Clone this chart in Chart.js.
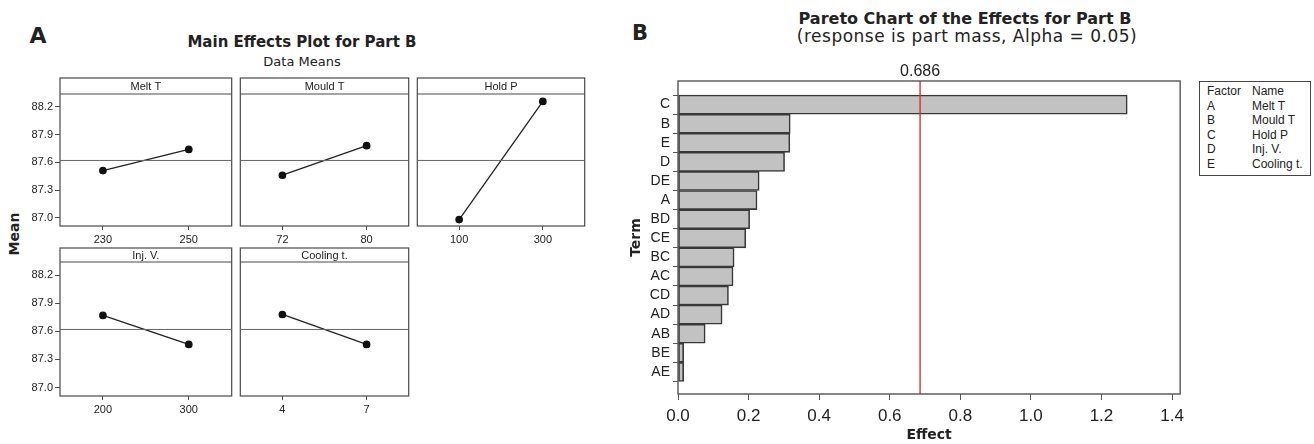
<!DOCTYPE html>
<html>
<head>
<meta charset="utf-8">
<script src="https://cdn.jsdelivr.net/npm/chart.js@4.4.1/dist/chart.umd.min.js"></script>
<style>
    body { margin: 0; width: 1314px; height: 444px; background: #fff; position: relative; overflow: hidden;
           font-family: 'Liberation Sans', Arial, sans-serif; color: #222; }
    canvas { position: absolute; }
    .txt { position: absolute; white-space: nowrap; line-height: 1; transform: translate(-50%, -50%); }
    .bold { font-family: 'DejaVu Sans', sans-serif; font-weight: bold; }
    #legend { position: absolute; left: 1199px; top: 81px; width: 110px; border: 1px solid #444;
              font-size: 12px; line-height: 14.6px; padding: 2px 0 3px 0; }
    #legend div span { display: inline-block; }
</style>
</head>
<body>

<div class="txt bold" style="left:38px;top:36px;font-size:22px">A</div>
<div class="txt bold" style="left:302px;top:42px;font-size:15px">Main Effects Plot for Part B</div>
<div class="txt" style="left:302px;top:61px;font-size:13px;font-family:'DejaVu Sans'">Data Means</div>
<div class="txt bold" style="left:14px;top:234px;font-size:14px;transform:translate(-50%,-50%) rotate(-90deg)">Mean</div>

<div class="txt bold" style="left:640px;top:33px;font-size:21px">B</div>
<div class="txt bold" style="left:965px;top:19px;font-size:16px">Pareto Chart of the Effects for Part B</div>
<div class="txt" style="left:967px;top:36px;font-size:17px;letter-spacing:0.5px;font-family:'DejaVu Sans'">(response is part mass, Alpha = 0.05)</div>

<div id="legend"></div>

<script>
// ---- data: main effects (panel A) ----
var factorCodes = ['A', 'B', 'C', 'D', 'E'];
var factorNames = ['Melt T', 'Mould T', 'Hold P', 'Inj. V.', 'Cooling t.'];
var factorLevels = [['230', '250'], ['72', '80'], ['100', '300'], ['200', '300'], ['4', '7']];
var meanLow = [87.51, 87.46, 86.98, 87.77, 87.78];
var meanHigh = [87.74, 87.78, 88.26, 87.46, 87.46];
var grandMean = 87.62;
var meanTicks = [87.0, 87.3, 87.6, 87.9, 88.2];

// ---- data: pareto (panel B) ----
var terms = ['C', 'B', 'E', 'D', 'DE', 'A', 'BD', 'CE', 'BC', 'AC', 'CD', 'AD', 'AB', 'BE', 'AE'];
var effects = [1.273, 0.318, 0.317, 0.302, 0.230, 0.224, 0.203, 0.192, 0.159, 0.156, 0.143, 0.125, 0.077, 0.016, 0.016];
var effectTicks = [0, 0.2, 0.4, 0.6, 0.8, 1.0, 1.2, 1.4];
var criticalEffect = 0.686;

var lineCol = '#4a4a4a';
var textCol = '#222';

// legend table
var leg = document.getElementById('legend');
var rows = [['Factor', 'Name']];
factorCodes.forEach(function (c, i) { rows.push([c, factorNames[i]]); });
rows.forEach(function (r) {
    var d = document.createElement('div');
    d.innerHTML = '<span style="width:45px;padding-left:7px">' + r[0] + '</span><span>' + r[1] + '</span>';
    leg.appendChild(d);
});

function makeCanvas(left, top, w, h) {
    var c = document.createElement('canvas');
    c.width = w; c.height = h;
    c.style.left = left + 'px'; c.style.top = top + 'px';
    document.body.appendChild(c);
    return c;
}

// ---- panel A: one small chart per factor ----
var cols = [[60, 236], [236, 413], [413, 589]];
var panelRows = [{ head: 78, top: 94, bottom: 226 }, { head: 248, top: 262, bottom: 396 }];

var headerPlugin = {
    id: 'header',
    beforeDatasetsDraw: function (chart, args, opts) {
        var ctx = chart.ctx, a = chart.chartArea;
        ctx.save();
        ctx.strokeStyle = lineCol;
        ctx.lineWidth = 1.2;
        ctx.strokeRect(a.left, a.top - opts.h, a.right - a.left, a.bottom - a.top + opts.h);
        ctx.beginPath();
        ctx.moveTo(a.left, a.top); ctx.lineTo(a.right, a.top);
        ctx.stroke();
        ctx.fillStyle = textCol;
        ctx.font = '11px "Liberation Sans"';
        ctx.textAlign = 'center';
        ctx.textBaseline = 'middle';
        ctx.fillText(opts.label, (a.left + a.right) / 2, a.top - opts.h / 2 + 0.5);
        ctx.restore();
    }
};

factorNames.forEach(function (name, i) {
    var r = panelRows[Math.floor(i / 3)];
    var col = cols[i % 3];
    var first = (i % 3) === 0;
    var left = first ? 0 : col[0] - 1;
    var top = r.head - 8;
    var w = col[1] + 1 - left;
    var h = (r.bottom - top) + 26;
    var cv = makeCanvas(left, top, w, h);

    new Chart(cv, {
        type: 'line',
        data: {
            datasets: [{
                data: [{ x: -0.5, y: grandMean }, { x: 1.5, y: grandMean }],
                borderColor: '#666', borderWidth: 1, pointRadius: 0
            }, {
                data: [{ x: 0, y: meanLow[i] }, { x: 1, y: meanHigh[i] }],
                borderColor: '#222', borderWidth: 1.3,
                pointRadius: 3.2, pointBackgroundColor: '#111', pointBorderColor: '#111'
            }]
        },
        options: {
            responsive: false,
            animation: false,
            layout: { padding: { top: r.top - top, left: first ? 0 : 1, right: 1, bottom: 0 } },
            plugins: {
                legend: { display: false },
                tooltip: { enabled: false },
                header: { label: name, h: r.top - r.head }
            },
            scales: {
                x: {
                    type: 'linear', min: -0.5, max: 1.5,
                    afterBuildTicks: function (s) { s.ticks = [{ value: 0 }, { value: 1 }]; },
                    afterFit: function (s) { s.height = 26; },
                    ticks: {
                        callback: function (v) { return factorLevels[i][v]; },
                        color: textCol, font: { family: 'Liberation Sans', size: 11 }, padding: 3, maxRotation: 0
                    },
                    grid: { drawOnChartArea: false, tickLength: 4, color: lineCol },
                    border: { display: false }
                },
                y: {
                    display: first,
                    min: 86.91, max: 88.34,
                    afterBuildTicks: function (s) { s.ticks = meanTicks.map(function (v) { return { value: v }; }); },
                    afterFit: function (s) { s.width = first ? 60 : 0; },
                    ticks: {
                        callback: function (v) { return v.toFixed(1); },
                        color: textCol, font: { family: 'Liberation Sans', size: 11 }, padding: 2
                    },
                    grid: { drawOnChartArea: false, tickLength: 5, color: lineCol },
                    border: { display: false }
                }
            }
        },
        plugins: [headerPlugin]
    });
});

// ---- panel B: pareto of effects ----
var paretoPlugin = {
    id: 'paretoExtras',
    afterDatasetsDraw: function (chart) {
        var ctx = chart.ctx, a = chart.chartArea;
        var x = chart.scales.x.getPixelForValue(criticalEffect);
        ctx.save();
        ctx.strokeStyle = '#e0201c';
        ctx.lineWidth = 1.3;
        ctx.beginPath();
        ctx.moveTo(x, a.top); ctx.lineTo(x, a.bottom);
        ctx.stroke();
        ctx.strokeStyle = '#555';
        ctx.lineWidth = 1.4;
        ctx.strokeRect(a.left, a.top, a.right - a.left, a.bottom - a.top);
        ctx.fillStyle = textCol;
        ctx.font = '16px "Liberation Sans"';
        ctx.textAlign = 'center';
        ctx.textBaseline = 'middle';
        ctx.fillText(criticalEffect.toFixed(3), x, 12);
        ctx.restore();
    }
};

var pc = makeCanvas(600, 60, 590, 384);
new Chart(pc, {
    type: 'bar',
    data: {
        datasets: [{
            data: effects.map(function (v, i) { return { x: v, y: i }; }),
            backgroundColor: '#c2c2c2',
            borderColor: '#383838',
            borderWidth: 1.6,
            borderSkipped: false,
            barPercentage: 1,
            categoryPercentage: 1
        }]
    },
    options: {
        indexAxis: 'y',
        responsive: false,
        animation: false,
        layout: { padding: { top: 21, right: 8, left: 0, bottom: 0 } },
        plugins: { legend: { display: false }, tooltip: { enabled: false } },
        scales: {
            x: {
                type: 'linear', min: 0, max: 1.423,
                afterBuildTicks: function (s) { s.ticks = effectTicks.map(function (v) { return { value: v }; }); },
                afterFit: function (s) { s.height = 50; },
                ticks: {
                    callback: function (v) { return v.toFixed(1); },
                    color: textCol, font: { family: 'Liberation Sans', size: 17 }, padding: 6, maxRotation: 0
                },
                grid: { drawOnChartArea: false, tickLength: 6, color: '#555' },
                border: { display: false },
                title: {
                    display: true, text: 'Effect', color: textCol,
                    font: { family: 'DejaVu Sans', weight: 'bold', size: 14, lineHeight: 1.2 },
                    padding: { top: 0, bottom: 0.6 }
                }
            },
            y: {
                type: 'linear', reverse: true, min: -0.69, max: 14.61,
                afterBuildTicks: function (s) { s.ticks = terms.map(function (t, i) { return { value: i }; }); },
                afterFit: function (s) { s.width = 78; },
                ticks: {
                    callback: function (v) { return terms[v]; },
                    color: textCol, font: { family: 'Liberation Sans', size: 14 }, padding: 3
                },
                grid: { drawOnChartArea: false, tickLength: 5, color: '#555' },
                border: { display: false },
                title: {
                    display: true, text: 'Term', color: textCol,
                    font: { family: 'DejaVu Sans', weight: 'bold', size: 14, lineHeight: 1.2 },
                    padding: { top: 28, bottom: 0 }
                }
            }
        }
    },
    plugins: [paretoPlugin]
});
</script>
</body>
</html>
